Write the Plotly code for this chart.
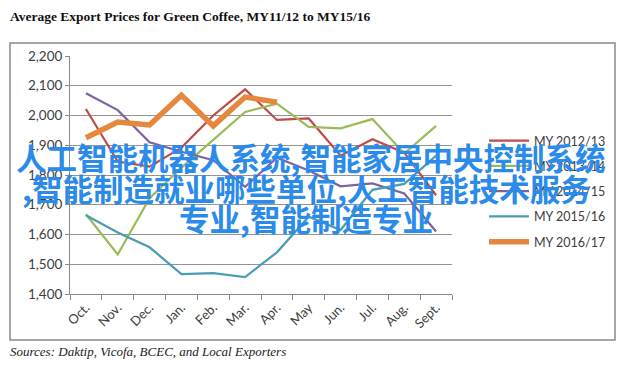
import plotly.graph_objects as go

months = ["Oct.", "Nov.", "Dec.", "Jan.", "Feb.", "Mar.", "Apr.", "May", "Jun.", "Jul.", "Aug.", "Sept."]
series_names = ["MY 2012/13", "MY 2013/14", "MY 2014/15", "MY 2015/16", "MY 2016/17"]
my1213 = [2022, 1845, 1828, 1892, 2000, 2088, 1985, 1990, 1865, 1920, 1875, 1732]
my1314 = [1668, 1533, 1722, 1825, 1918, 2012, 2040, 1962, 1957, 1988, 1872, 1965]
my1415 = [2075, 2018, 1910, 1878, 1850, 1760, 1858, 1815, 1762, 1772, 1738, 1610]
my1516 = [1665, 1607, 1557, 1467, 1470, 1457, 1540, 1660, 1615, 1750, 1770, 1865]
my1617 = [1925, 1978, 1968, 2068, 1965, 2062, 2045]
y_ticks = [1400, 1500, 1600, 1700, 1800, 1900, 2000, 2100, 2200]

title_text = "Average Export Prices for Green Coffee, MY11/12 to MY15/16"
source_text = "Sources: Daktip, Vicofa, BCEC, and Local Exporters"
watermark = ["人工智能机器人系统,智能家居中央控制系统",
             ",智能制造就业哪些单位,人工智能技术服务",
             "专业,智能制造专业"]

colors = ["#BE4B48", "#9BBB59", "#7F63A1", "#4A9DB3", "#E5883D"]
widths = [2.2, 2.2, 2.2, 2.2, 5.5]
values = [my1213, my1314, my1415, my1516, my1617]

fig = go.Figure()
for i, (name, vals) in enumerate(zip(series_names, values)):
    fig.add_trace(go.Scatter(
        x=months[:len(vals)], y=vals, mode="lines", name=name,
        line=dict(color=colors[i], width=widths[i]),
        legendgroup=name,
    ))

# page body has an 8px margin: the figure is drawn offset by OFF
OFF = 8
W, H = 628 - OFF, 372 - OFF
L, T = 70 - OFF, 56 - OFF
R = W - (452 - OFF)
B = H - (294 - OFF)
pw, ph = W - L - R, H - T - B

def px_x(x):
    return (x - OFF - L) / pw

def px_y(y):
    return (H - B - (y - OFF)) / ph

fig.update_layout(
    width=W, height=H,
    margin=dict(l=L, r=R, t=T, b=B),
    paper_bgcolor="white", plot_bgcolor="white",
    showlegend=True,
    legend=dict(
        x=px_x(484), y=px_y(126), xanchor="left", yanchor="top",
        font=dict(family="Lato", size=12.5, color="#404040"),
        traceorder="grouped", tracegroupgap=6,
        bgcolor="rgba(0,0,0,0)", itemwidth=40,
    ),
    xaxis=dict(
        type="category", categoryorder="array", categoryarray=months,
        range=[-0.5, 11.5],
        showline=True, linecolor="#8a8a8a", linewidth=1,
        ticks="outside", tickson="boundaries", ticklen=5, tickcolor="#8a8a8a",
        tickangle=-45, tickfont=dict(family="Lato", size=13, color="#404040"),
        showgrid=False,
    ),
    yaxis=dict(
        range=[1400, 2200], tickvals=y_ticks,
        ticktext=[f"{v:,}" for v in y_ticks],
        showline=True, linecolor="#8a8a8a", linewidth=1,
        ticks="outside", ticklen=4, tickcolor="#8a8a8a",
        showgrid=True, gridcolor="#939393", gridwidth=1,
        tickfont=dict(family="Lato", size=13.5, color="#404040"),
        zeroline=False,
    ),
)

# outer frame
fig.add_shape(type="rect", xref="paper", yref="paper",
              x0=px_x(10), x1=px_x(615), y0=px_y(340), y1=px_y(43),
              line=dict(color="#8a8a8a", width=1.5), layer="below")

fig.add_annotation(text="<b>" + title_text + "</b>", xref="paper", yref="paper",
                   x=px_x(8), y=px_y(17), xanchor="left", yanchor="middle",
                   showarrow=False,
                   font=dict(family="Liberation Serif", size=13.5, color="#111111"))
fig.add_annotation(text="<i>" + source_text + "</i>", xref="paper", yref="paper",
                   x=px_x(8), y=px_y(351), xanchor="left", yanchor="middle",
                   showarrow=False,
                   font=dict(family="Liberation Serif", size=13, color="#222222"))

for line, yc, xc in zip(watermark, [157, 188, 218], [310, 306, 306]):
    fig.add_annotation(text="<b>" + line + "</b>", xref="paper", yref="paper",
                       x=px_x(xc), y=px_y(yc), xanchor="center", yanchor="middle",
                       showarrow=False,
                       font=dict(family="Noto Sans CJK SC", size=30.5, color="#2A8BEA"))

fig.write_html("out.html")
